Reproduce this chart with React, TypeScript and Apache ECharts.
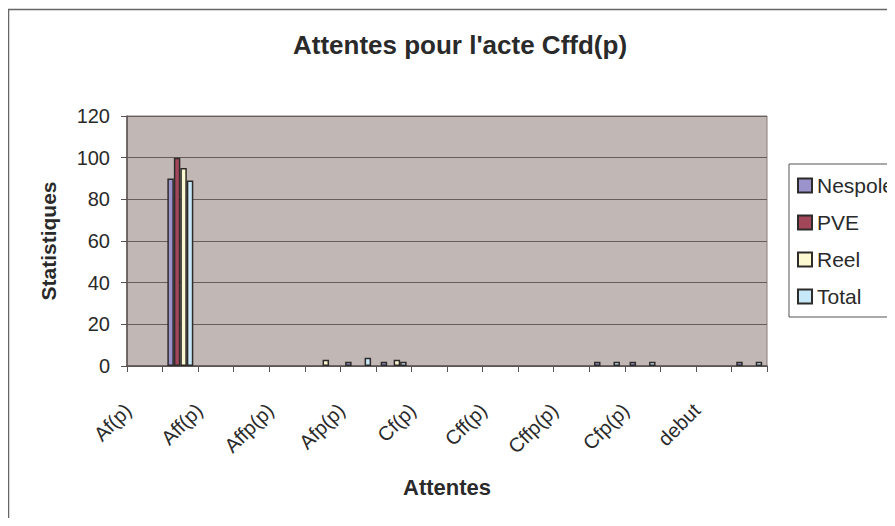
import React, { useEffect, useRef } from "react";
import * as echarts from "echarts";

// Waiting acts (every second label is shown on the axis)
const categories = [
  "Af(p)", "Afd(p)", "Aff(p)", "Affd(p)", "Affp(p)", "Affpd(p)",
  "Afp(p)", "Afpd(p)", "Cf(p)", "Cfd(p)", "Cff(p)", "Cffd(p)",
  "Cffp(p)", "Cffpd(p)", "Cfp(p)", "Cfpd(p)", "debut", "fin",
];

const nespole = [0, 90, 0, 0, 0, 0, 2, 2, 0, 0, 0, 0, 0, 2, 2, 0, 0, 2];
const pve = [0, 100, 0, 0, 0, 0, 0, 0, 0, 0, 0, 0, 0, 0, 0, 0, 0, 0];
const reel = [0, 95, 0, 0, 0, 3, 0, 3, 0, 0, 0, 0, 0, 0, 0, 0, 0, 0];
const total = [0, 89, 0, 0, 0, 0, 4, 2, 0, 0, 0, 0, 0, 2, 2, 0, 0, 2];

const yTicks = { min: 0, max: 120, interval: 20 };

const FONT = "'Liberation Sans', Arial, sans-serif";
const INK = "#2a2a2a";

const seriesDefs = [
  { name: "Nespole", data: nespole, color: "#9a93cc" },
  { name: "PVE", data: pve, color: "#a2465a" },
  { name: "Reel", data: reel, color: "#fcf8cf" },
  { name: "Total", data: total, color: "#c6e8f7" },
];

export default function App() {
  const ref = useRef<HTMLDivElement>(null);

  useEffect(() => {
    if (!ref.current) return;
    const chart = echarts.init(ref.current, undefined, { renderer: "svg" });
    chart.setOption({
      animation: false,
      backgroundColor: "#ffffff",
      textStyle: { fontFamily: FONT, color: INK },
      title: {
        text: "Attentes pour l'acte Cffd(p)",
        left: 447,
        top: 19,
        textAlign: "center",
        textStyle: { fontFamily: FONT, fontSize: 26, fontWeight: "bold", color: INK },
      },
      graphic: [
        {
          type: "rect",
          silent: true,
          shape: { x: 0.5, y: 1.5, width: 1200, height: 1200 },
          style: { fill: "none", stroke: "#666666", lineWidth: 1.5 },
        },
      ],
      legend: {
        orient: "vertical",
        left: 781,
        top: 156,
        itemWidth: 14,
        itemHeight: 14,
        itemGap: 16,
        icon: "rect",
        padding: [11, 30, 10, 8],
        borderColor: "#555555",
        borderWidth: 1,
        backgroundColor: "#ffffff",
        textStyle: { fontFamily: FONT, fontSize: 21, color: INK },
        data: seriesDefs.map((s) => s.name),
      },
      grid: {
        left: 119,
        top: 108,
        width: 640,
        height: 250,
        show: true,
        backgroundColor: "#c1b8b5",
        borderColor: "#857c7a",
        borderWidth: 1,
        containLabel: false,
      },
      xAxis: {
        type: "category",
        data: categories,
        boundaryGap: true,
        name: "Attentes",
        nameLocation: "middle",
        nameGap: 110,
        nameTextStyle: { fontFamily: FONT, fontSize: 22, fontWeight: "bold", color: INK },
        axisLine: { show: true, lineStyle: { color: "#5a5252", width: 1.5 } },
        axisTick: { show: true, alignWithLabel: false, interval: 0, length: 6, lineStyle: { color: "#5a5252" } },
        axisLabel: {
          interval: 1,
          rotate: 45,
          margin: 24,
          padding: [0, 24, 0, 0],
          fontFamily: FONT,
          fontSize: 20,
          color: INK,
        },
        splitLine: { show: false },
      },
      yAxis: {
        type: "value",
        min: yTicks.min,
        max: yTicks.max,
        interval: yTicks.interval,
        name: "Statistiques",
        nameLocation: "middle",
        nameRotate: 90,
        nameGap: 68,
        nameTextStyle: { fontFamily: FONT, fontSize: 21, fontWeight: "bold", color: INK },
        axisLine: { show: true, lineStyle: { color: "#5a5252", width: 1.5 } },
        axisTick: { show: true, length: 6, lineStyle: { color: "#5a5252" } },
        axisLabel: { margin: 17, fontFamily: FONT, fontSize: 20, color: INK },
        splitLine: { show: true, lineStyle: { color: "#675e5c", width: 1 } },
      },
      series: seriesDefs.map((s) => ({
        name: s.name,
        type: "bar",
        barGap: "0%",
        barCategoryGap: "27%",
        data: s.data.map((v) => (v === 0 ? null : v)),
        itemStyle: { color: s.color, borderColor: "#2e2b2b", borderWidth: 1.5 },
      })),
    });
    return () => chart.dispose();
  }, []);

  return <div ref={ref} style={{ width: 887, height: 510 }} />;
}
